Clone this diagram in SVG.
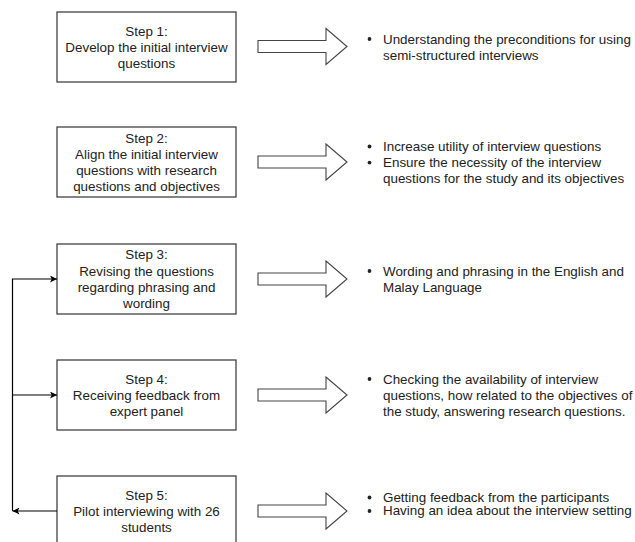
<svg xmlns="http://www.w3.org/2000/svg" width="635" height="542" viewBox="0 0 635 542">
<style>
.box{fill:#fff;stroke:#333;stroke-width:1.2}
.t{font-family:"Liberation Sans",Arial,sans-serif;font-size:13.4px;fill:#222}
.c{text-anchor:middle}
.blk{fill:#fff;stroke:#444;stroke-width:1.1;stroke-linejoin:miter}
.edge{fill:none;stroke:#000;stroke-width:1.2}
.dot{fill:#222}
</style>
<defs>
<marker id="ah" viewBox="0 0 10 10" refX="10" refY="5" markerWidth="7" markerHeight="7" markerUnits="userSpaceOnUse" orient="auto">
<path d="M0,0 L10,5 L0,10 L2.5,5 Z" fill="#000"/>
</marker>
<polygon id="barrow" points="258,-6 326,-6 326,-18 347,0 326,18 326,6 258,6"/>
</defs>
<rect width="635" height="542" fill="#fff"/>

<g id="step1">
<rect class="box" x="57" y="12" width="179" height="70"/>
<text class="t c" x="146.5" y="35.5">Step 1:</text>
<text class="t c" x="146.5" y="51.6">Develop the initial interview</text>
<text class="t c" x="146.5" y="67.7">questions</text>
</g>
<g id="step2">
<rect class="box" x="57" y="127" width="179" height="70"/>
<text class="t c" x="146.5" y="142.7">Step 2:</text>
<text class="t c" x="146.5" y="158.8">Align the initial interview</text>
<text class="t c" x="146.5" y="174.9">questions with research</text>
<text class="t c" x="146.5" y="191">questions and objectives</text>
</g>
<g id="step3">
<rect class="box" x="57" y="244" width="179" height="70"/>
<text class="t c" x="146.5" y="259.4">Step 3:</text>
<text class="t c" x="146.5" y="275.5">Revising the questions</text>
<text class="t c" x="146.5" y="291.6">regarding phrasing and</text>
<text class="t c" x="146.5" y="307.7">wording</text>
</g>
<g id="step4">
<rect class="box" x="57" y="360" width="179" height="70"/>
<text class="t c" x="146.5" y="383.7">Step 4:</text>
<text class="t c" x="146.5" y="399.8">Receiving feedback from</text>
<text class="t c" x="146.5" y="415.9">expert panel</text>
</g>
<g id="step5">
<rect class="box" x="57" y="476" width="179" height="70"/>
<text class="t c" x="146.5" y="499.7">Step 5:</text>
<text class="t c" x="146.5" y="515.8">Pilot interviewing with 26</text>
<text class="t c" x="146.5" y="531.9">students</text>
</g>

<g id="block-arrows">
<use href="#barrow" class="blk" transform="translate(0,46.5)"/>
<use href="#barrow" class="blk" transform="translate(0,162)"/>
<use href="#barrow" class="blk" transform="translate(0,279)"/>
<use href="#barrow" class="blk" transform="translate(0,395)"/>
<use href="#barrow" class="blk" transform="translate(0,511)"/>
</g>

<g id="outcome1">
<circle class="dot" cx="369.5" cy="39" r="1.9"/>
<text class="t" x="383" y="43.7">Understanding the preconditions for using</text>
<text class="t" x="383" y="59.8">semi-structured interviews</text>
</g>
<g id="outcome2">
<circle class="dot" cx="369.5" cy="146.5" r="1.9"/>
<circle class="dot" cx="369.5" cy="162.6" r="1.9"/>
<text class="t" x="383" y="150.7">Increase utility of interview questions</text>
<text class="t" x="383" y="166.8">Ensure the necessity of the interview</text>
<text class="t" x="383" y="182.9">questions for the study and its objectives</text>
</g>
<g id="outcome3">
<circle class="dot" cx="369.5" cy="271" r="1.9"/>
<text class="t" x="383" y="275.7">Wording and phrasing in the English and</text>
<text class="t" x="383" y="291.8">Malay Language</text>
</g>
<g id="outcome4">
<circle class="dot" cx="369.5" cy="379" r="1.9"/>
<text class="t" x="383" y="383.7">Checking the availability of interview</text>
<text class="t" x="383" y="399.8">questions, how related to the objectives of</text>
<text class="t" x="383" y="415.9">the study, answering research questions.</text>
</g>
<g id="outcome5">
<circle class="dot" cx="369.5" cy="497.5" r="1.9"/>
<circle class="dot" cx="369.5" cy="511" r="1.9"/>
<text class="t" x="383" y="501.7">Getting feedback from the participants</text>
<text class="t" x="383" y="515.3">Having an idea about the interview setting</text>
</g>

<g id="connectors">
<path class="edge" d="M57,511 L12.5,511" marker-end="url(#ah)"/>
<path class="edge" d="M12.5,511 L12.5,279 L57,279" marker-end="url(#ah)"/>
<path class="edge" d="M12.5,395 L57,395" marker-end="url(#ah)"/>
</g>
</svg>
